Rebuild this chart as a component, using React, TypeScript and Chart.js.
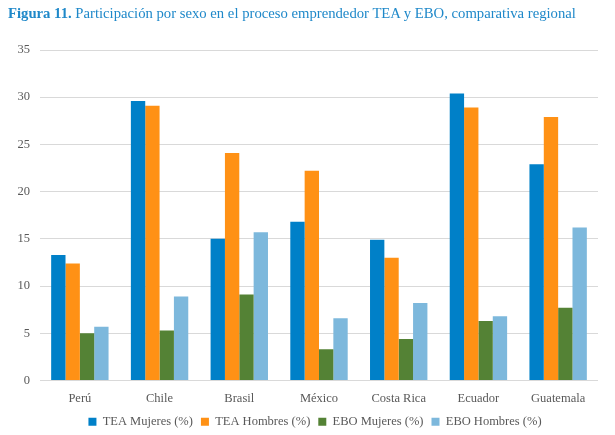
import React, { useEffect, useRef } from 'react';
import Chart from 'chart.js/auto';

const countries = ['Perú', 'Chile', 'Brasil', 'México', 'Costa Rica', 'Ecuador', 'Guatemala'];
const teaMujeres = [13.3, 29.6, 15.0, 16.8, 14.9, 30.4, 22.9];
const teaHombres = [12.4, 29.1, 24.1, 22.2, 13.0, 28.9, 27.9];
const eboMujeres = [5.0, 5.3, 9.1, 3.3, 4.4, 6.3, 7.7];
const eboHombres = [5.7, 8.9, 15.7, 6.6, 8.2, 6.8, 16.2];
const yTicks = [0, 5, 10, 15, 20, 25, 30, 35];

const FONT = "'Liberation Serif', 'Times New Roman', serif";
const GREY = '#595959';

// nudge the legend so it sits where the source has it (a bit right and lower)
const legendShift = {
  id: 'legendShift',
  afterLayout(c: any) {
    const l = c.legend;
    if (!l) return;
    l.left += 16;
    l.right += 16;
    l.top += 3;
    l.bottom += 3;
  }
};

const App: React.FC = () => {
  const chartRef = useRef<HTMLCanvasElement | null>(null);

  useEffect(() => {
    let chart: Chart | undefined;
    if (chartRef.current) {
      chart = new Chart(chartRef.current, {
        type: 'bar',
        data: {
          labels: countries,
          datasets: [
            { label: 'TEA Mujeres (%)', data: teaMujeres, backgroundColor: '#0080C8' },
            { label: 'TEA Hombres (%)', data: teaHombres, backgroundColor: '#FF9115' },
            { label: 'EBO Mujeres (%)', data: eboMujeres, backgroundColor: '#548235' },
            { label: 'EBO Hombres (%)', data: eboHombres, backgroundColor: '#7DB8DC' }
          ]
        },
        options: {
          responsive: false,
          animation: false,
          datasets: {
            bar: { categoryPercentage: 0.72, barPercentage: 1 }
          },
          layout: { padding: { top: 50, right: 17, left: 0, bottom: 0 } },
          plugins: {
            tooltip: { enabled: false },
            legend: {
              position: 'bottom',
              labels: {
                boxWidth: 8,
                boxHeight: 8,
                padding: 8,
                color: GREY,
                font: { family: FONT, size: 12.5 }
              }
            }
          },
          scales: {
            x: {
              grid: { display: false },
              border: { display: false },
              ticks: { color: GREY, font: { family: FONT, size: 12.5 }, padding: 3 },
              afterFit: (s: any) => { s.height = 24; }
            },
            y: {
              min: 0,
              max: 35,
              afterBuildTicks: (s: any) => { s.ticks = yTicks.map((v) => ({ value: v })); },
              grid: { color: '#D9D9D9', lineWidth: 1, drawTicks: false },
              border: { display: false },
              ticks: { color: GREY, font: { family: FONT, size: 12.5 }, padding: 10 },
              afterFit: (s: any) => { s.width = 40; }
            }
          }
        },
        plugins: [legendShift]
      });
    }
    return () => {
      if (chart) chart.destroy();
    };
  }, []);

  return (
    <div style={{ position: 'fixed', left: 0, top: 0, width: 615, height: 435, background: '#fff' }}>
      <canvas ref={chartRef} width={615} height={435} style={{ position: 'absolute', left: 0, top: 0 }} />
      <div
        style={{
          position: 'absolute',
          left: 8,
          top: 5,
          fontFamily: FONT,
          fontSize: 14.7,
          color: '#1E88C9',
          whiteSpace: 'nowrap'
        }}
      >
        <b>Figura 11.</b> Participación por sexo en el proceso emprendedor TEA y EBO, comparativa regional
      </div>
    </div>
  );
};

export default App;
